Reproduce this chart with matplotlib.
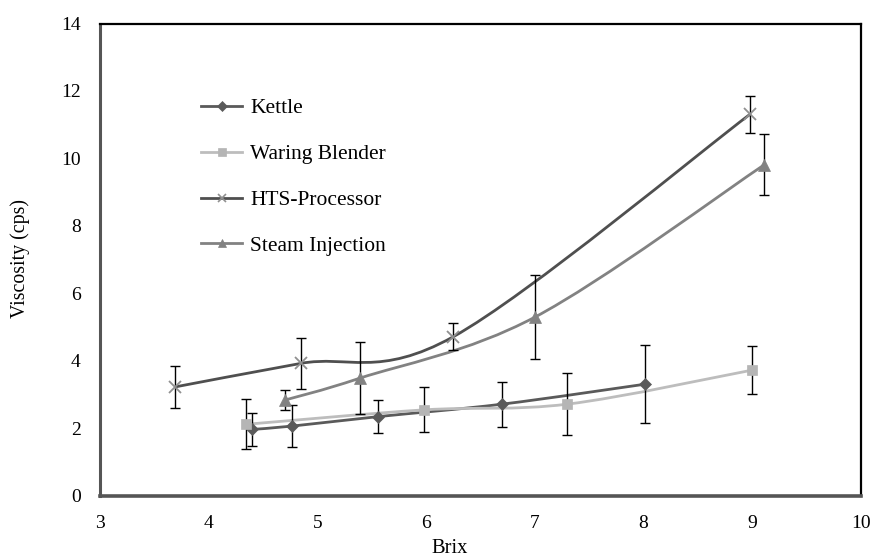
import numpy as np
import matplotlib
matplotlib.use("Agg")
import matplotlib.pyplot as plt
from matplotlib.path import Path
from matplotlib.patches import PathPatch

plt.rcParams['font.family'] = ['Liberation Serif', 'DejaVu Serif']

# ---- data ----
kettle_x = [4.40, 4.77, 5.56, 6.70, 8.01]
kettle_y = [1.96, 2.06, 2.34, 2.71, 3.30]
kettle_e = [0.48, 0.61, 0.50, 0.67, 1.16]

waring_x = [4.34, 5.98, 7.30, 9.00]
waring_y = [2.11, 2.54, 2.71, 3.72]
waring_e = [0.74, 0.67, 0.92, 0.70]

hts_x = [3.69, 4.85, 6.25, 8.98]
hts_y = [3.22, 3.92, 4.71, 11.31]
hts_e = [0.61, 0.75, 0.40, 0.55]

steam_x = [4.70, 5.39, 7.00, 9.11]
steam_y = [2.83, 3.48, 5.29, 9.81]
steam_e = [0.30, 1.06, 1.24, 0.90]

labels = ["Kettle", "Waring Blender", "HTS-Processor", "Steam Injection"]
x_ticks = [3, 4, 5, 6, 7, 8, 9, 10]
y_ticks = [0, 2, 4, 6, 8, 10, 12, 14]


def smooth_path(xs, ys, t=1/6):
    xs = np.asarray(xs, float); ys = np.asarray(ys, float)
    pts = np.column_stack([xs, ys])
    n = len(pts)
    verts = [pts[0]]
    codes = [Path.MOVETO]
    for i in range(n - 1):
        p0 = pts[i - 1] if i > 0 else pts[i]
        p1 = pts[i]
        p2 = pts[i + 1]
        p3 = pts[i + 2] if i + 2 < n else pts[i + 1]
        c1 = p1 + (p2 - p0) * t
        c2 = p2 - (p3 - p1) * t
        verts += [c1, c2, p2]
        codes += [Path.CURVE4] * 3
    return Path(verts, codes)


fig = plt.figure(figsize=(8.79, 5.57), dpi=100)
ax = fig.add_axes([100/879, 61.5/557, 761/879, 472/557])

series = [
    (kettle_x, kettle_y, kettle_e, '#5a5a5a', '#5a5a5a', 'D', 6, 2.0),
    (waring_x, waring_y, waring_e, '#bdbdbd', '#b5b5b5', 's', 7, 2.0),
    (hts_x, hts_y, hts_e, '#4f4f4f', '#909090', 'x', 8, 2.0),
    (steam_x, steam_y, steam_e, '#828282', '#828282', '^', 8, 2.0),
]

handles = []
for (xs, ys, es, lc, mc, mk, ms, lw), lab in zip(series, labels):
    patch = PathPatch(smooth_path(xs, ys), facecolor='none', edgecolor=lc, lw=lw, zorder=3)
    ax.add_patch(patch)
    ax.errorbar(xs, ys, yerr=es, fmt='none', ecolor='black', elinewidth=1.0,
                capsize=3.6, capthick=1.0, zorder=4)
    ax.plot(xs, ys, linestyle='none', marker=mk, color=mc, markersize=ms,
            markeredgewidth=1.3 if mk == 'x' else 0.5, markeredgecolor=mc, zorder=5)
    h, = ax.plot([], [], color=lc, lw=lw, marker=mk, markersize=ms * 0.8,
                 markerfacecolor=mc, markeredgecolor=mc,
                 markeredgewidth=1.2 if mk == 'x' else 0.5, label=lab)
    handles.append(h)

ax.set_xlim(3, 10)
ax.set_ylim(0, 14)
ax.set_xticks(x_ticks)
ax.set_yticks(y_ticks)
ax.tick_params(axis='both', length=0, labelsize=14, pad=14)

for s in ['top', 'right']:
    ax.spines[s].set_color('black')
    ax.spines[s].set_linewidth(1.6)
ax.spines['left'].set_color('#555555')
ax.spines['left'].set_linewidth(2.2)
ax.spines['bottom'].set_color('#555555')
ax.spines['bottom'].set_linewidth(2.6)

leg = ax.legend(handles=handles, loc='upper left', bbox_to_anchor=(0.122, 0.860),
                frameon=False, fontsize=15.5, labelspacing=1.2, handlelength=1.9,
                handletextpad=0.37, borderaxespad=0)

fig.text(20/879, (557-258)/557, "Viscosity (cps)", rotation=90, ha='center', va='center', fontsize=14.3)
fig.text(450/879, (557-539)/557, "Brix", ha='center', va='top', fontsize=14.8)

fig.savefig("out.png", dpi=100)
